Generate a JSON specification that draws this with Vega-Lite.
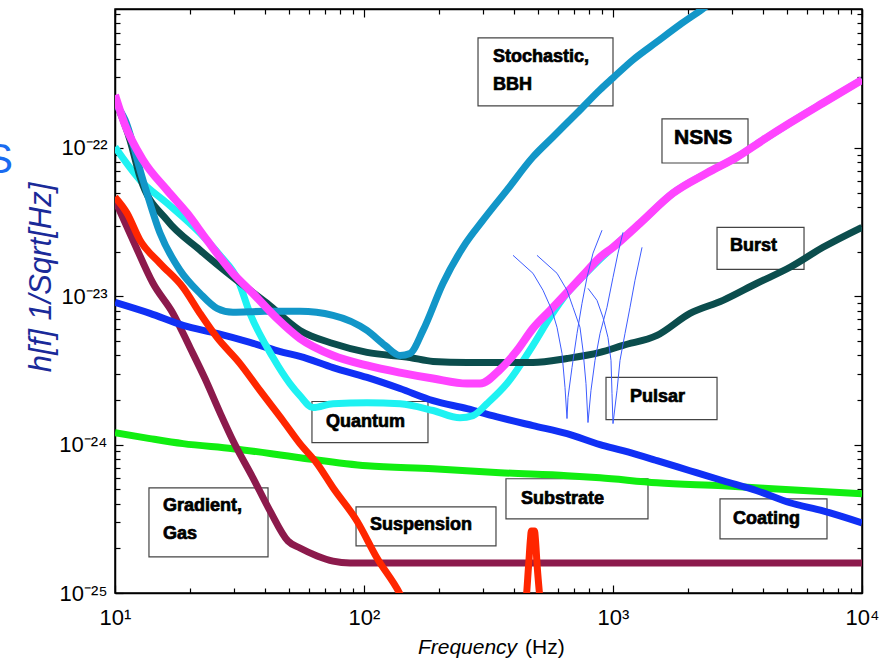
{
  "$schema": "https://vega.github.io/schema/vega-lite/v6.json",
  "width": 747,
  "height": 584,
  "autosize": {"type": "none"},
  "padding": {"left": 115, "top": 9, "right": 28, "bottom": 65},
  "background": "white",
  "config": {
    "view": {"stroke": "black", "strokeWidth": 1.5},
    "font": "Liberation Sans",
    "axis": {
      "tickColor": "black", "tickWidth": 1.2, "domainColor": "black", "domainWidth": 1.5,
      "grid": false, "labelFont": "Liberation Sans", "labelFontSize": 22, "labelColor": "black",
      "labelFlush": false, "labelOverlap": false, "labelBound": false
    }
  },
  "datasets": {
    "boxes": [
      {"name": "Stochastic", "f1": 287, "f2": 1000, "h1": 5.53e-22, "h2": 1.92e-22},
      {"name": "NSNS", "f1": 1573, "f2": 3485, "h1": 1.57e-22, "h2": 7.92e-23},
      {"name": "Burst", "f1": 2617, "f2": 5850, "h1": 2.92e-23, "h2": 1.52e-23},
      {"name": "Pulsar", "f1": 937.4, "f2": 2617, "h1": 2.84e-24, "h2": 1.476e-24},
      {"name": "Coating", "f1": 2690, "f2": 7235, "h1": 4.31e-25, "h2": 2.32e-25},
      {"name": "Substrate", "f1": 371.7, "f2": 1382, "h1": 5.89e-25, "h2": 3.16e-25},
      {"name": "Suspension", "f1": 92.9, "f2": 338.9, "h1": 3.81e-25, "h2": 2.08e-25},
      {"name": "Quantum", "f1": 61.8, "f2": 180.7, "h1": 1.955e-24, "h2": 1.033e-24},
      {"name": "Gradient", "f1": 13.69, "f2": 41.17, "h1": 5.12e-25, "h2": 1.75e-25}
    ],
    "labels": [
      {"label": "Stochastic,", "f": 329.6, "h": 4.12e-22},
      {"label": "BBH", "f": 329.6, "h": 2.67e-22},
      {"label": "NSNS", "f": 1758, "h": 1.17e-22},
      {"label": "Burst", "f": 2951, "h": 2.18e-23},
      {"label": "Pulsar", "f": 1170, "h": 2.11e-24},
      {"label": "Coating", "f": 3034, "h": 3.14e-25},
      {"label": "Substrate", "f": 427, "h": 4.3e-25},
      {"label": "Suspension", "f": 105.7, "h": 2.88e-25},
      {"label": "Quantum", "f": 70.4, "h": 1.43e-24},
      {"label": "Gradient,", "f": 15.59, "h": 3.88e-25},
      {"label": "Gas", "f": 15.59, "h": 2.5e-25}
    ],
    "substrate": [
      {"f": 10, "h": 1.205e-24}, {"f": 13.82, "h": 1.099e-24}, {"f": 18.76, "h": 1.016e-24},
      {"f": 29.78, "h": 9.4e-25}, {"f": 55.3, "h": 8.17e-25}, {"f": 102.8, "h": 7.21e-25},
      {"f": 189.3, "h": 6.89e-25}, {"f": 351.8, "h": 6.47e-25}, {"f": 653.6, "h": 6.18e-25},
      {"f": 887, "h": 5.98e-25}, {"f": 1502, "h": 5.53e-25}, {"f": 2766, "h": 5.28e-25},
      {"f": 5139, "h": 4.97e-25}, {"f": 10000, "h": 4.67e-25}
    ],
    "gradient": [
      {"f": 10, "h": 4.45e-23}, {"f": 11.81, "h": 2.39e-23}, {"f": 14.21, "h": 1.225e-23},
      {"f": 17.1, "h": 7.67e-24}, {"f": 20, "h": 4.52e-24}, {"f": 22.98, "h": 2.79e-24},
      {"f": 26.4, "h": 1.644e-24}, {"f": 29.78, "h": 1.063e-24}, {"f": 35.8, "h": 5.98e-25},
      {"f": 41.93, "h": 3.58e-25}, {"f": 49.5, "h": 2.24e-25}, {"f": 55.3, "h": 2.01e-25},
      {"f": 64.8, "h": 1.778e-25}, {"f": 75.1, "h": 1.64e-25}, {"f": 87.9, "h": 1.594e-25},
      {"f": 10000, "h": 1.594e-25}
    ],
    "coating": [
      {"f": 10, "h": 9.1e-24}, {"f": 13.82, "h": 7.67e-24}, {"f": 18.76, "h": 6.37e-24},
      {"f": 25.68, "h": 5.62e-24}, {"f": 34.85, "h": 4.89e-24}, {"f": 47.3, "h": 4.19e-24},
      {"f": 55.3, "h": 3.94e-24}, {"f": 75.1, "h": 3.31e-24}, {"f": 102.8, "h": 2.84e-24},
      {"f": 139.5, "h": 2.39e-24}, {"f": 189.3, "h": 1.98e-24}, {"f": 259.3, "h": 1.75e-24},
      {"f": 351.8, "h": 1.52e-24}, {"f": 477, "h": 1.343e-24}, {"f": 653.6, "h": 1.186e-24},
      {"f": 887, "h": 1e-24}, {"f": 1097, "h": 9.1e-25}, {"f": 1502, "h": 7.8e-25},
      {"f": 2038, "h": 6.67e-25}, {"f": 2766, "h": 5.71e-25}, {"f": 3787, "h": 4.89e-25},
      {"f": 5139, "h": 4.06e-25}, {"f": 6973, "h": 3.58e-25}, {"f": 10000, "h": 2.97e-25}
    ],
    "suspension": [
      {"f": 10, "h": 4.67e-23}, {"f": 11.17, "h": 3.64e-23}, {"f": 12.6, "h": 2.39e-23},
      {"f": 15.16, "h": 1.67e-23}, {"f": 18.76, "h": 1.15e-23}, {"f": 21.95, "h": 7.67e-24},
      {"f": 25.68, "h": 5.28e-24}, {"f": 31.77, "h": 3.52e-24}, {"f": 38.2, "h": 2.32e-24},
      {"f": 47.3, "h": 1.45e-24}, {"f": 55.3, "h": 1.016e-24}, {"f": 64.8, "h": 7.45e-25},
      {"f": 75.1, "h": 5.12e-25}, {"f": 93.7, "h": 3.06e-25}, {"f": 112.8, "h": 1.72e-25},
      {"f": 139.5, "h": 9.84e-26}, {"f": 146, "h": 8.43e-26}, {"f": 445, "h": 8.8e-26},
      {"f": 458, "h": 1.52e-25}, {"f": 466, "h": 2.3e-25}, {"f": 470, "h": 2.62e-25},
      {"f": 484, "h": 2.62e-25}, {"f": 488, "h": 2.3e-25}, {"f": 496, "h": 1.52e-25},
      {"f": 510, "h": 8.8e-26}
    ],
    "quantum": [
      {"f": 10, "h": 1.016e-22}, {"f": 12.6, "h": 6.08e-23}, {"f": 16.18, "h": 4.25e-23},
      {"f": 21.95, "h": 2.67e-23}, {"f": 26.4, "h": 1.89e-23}, {"f": 31.2, "h": 1.283e-23},
      {"f": 34.85, "h": 7.67e-24}, {"f": 43.1, "h": 3.87e-24}, {"f": 50.4, "h": 2.58e-24},
      {"f": 55.3, "h": 2.14e-24}, {"f": 62.4, "h": 1.778e-24}, {"f": 75.1, "h": 1.89e-24},
      {"f": 102.8, "h": 1.92e-24}, {"f": 139.5, "h": 1.89e-24}, {"f": 189.3, "h": 1.7e-24},
      {"f": 242.9, "h": 1.52e-24}, {"f": 274, "h": 1.57e-24}, {"f": 311.9, "h": 1.89e-24},
      {"f": 375, "h": 2.58e-24}, {"f": 477, "h": 4.67e-24}, {"f": 558.5, "h": 7.21e-24},
      {"f": 653.6, "h": 1.047e-23}, {"f": 757.8, "h": 1.365e-23}, {"f": 887, "h": 1.78e-23},
      {"f": 1000, "h": 2.14e-23}, {"f": 1284, "h": 3.11e-23}, {"f": 1742, "h": 4.96e-23},
      {"f": 2385, "h": 6.78e-23}, {"f": 3148, "h": 8.69e-23}, {"f": 4004, "h": 1.132e-22},
      {"f": 5139, "h": 1.475e-22}, {"f": 6973, "h": 2.01e-22}, {"f": 10000, "h": 2.88e-22}
    ],
    "burst": [
      {"f": 10, "h": 2.11e-22}, {"f": 11.49, "h": 1.13e-22}, {"f": 12.6, "h": 6.37e-23},
      {"f": 16.18, "h": 3.26e-23}, {"f": 21.95, "h": 2.05e-23}, {"f": 29.78, "h": 1.343e-23},
      {"f": 40.8, "h": 8.97e-24}, {"f": 55.3, "h": 5.89e-24}, {"f": 75.1, "h": 4.81e-24},
      {"f": 102.8, "h": 4.19e-24}, {"f": 153, "h": 3.87e-24},
      {"f": 189.3, "h": 3.64e-24}, {"f": 259.3, "h": 3.58e-24}, {"f": 351.8, "h": 3.58e-24},
      {"f": 477, "h": 3.58e-24}, {"f": 653.6, "h": 3.81e-24}, {"f": 887, "h": 4.19e-24},
      {"f": 1097, "h": 4.67e-24}, {"f": 1502, "h": 5.45e-24}, {"f": 2038, "h": 7.67e-24},
      {"f": 2766, "h": 9.39e-24}, {"f": 3787, "h": 1.225e-23}, {"f": 5139, "h": 1.57e-23},
      {"f": 6973, "h": 2.14e-23}, {"f": 10000, "h": 2.92e-23}
    ],
    "bbh": [
      {"f": 10, "h": 2.01e-22}, {"f": 10.97, "h": 1.55e-22}, {"f": 12.95, "h": 6.08e-23},
      {"f": 15.16, "h": 2.67e-23}, {"f": 18.24, "h": 1.5e-23}, {"f": 21.95, "h": 1.047e-23},
      {"f": 25.68, "h": 8.3e-24}, {"f": 29.78, "h": 7.8e-24}, {"f": 40, "h": 7.92e-24},
      {"f": 55.3, "h": 7.92e-24}, {"f": 75.1, "h": 7.45e-24}, {"f": 102.8, "h": 5.89e-24},
      {"f": 121.4, "h": 4.67e-24}, {"f": 139.5, "h": 3.99e-24}, {"f": 153, "h": 4.12e-24},
      {"f": 172.6, "h": 5.89e-24}, {"f": 207.7, "h": 1.225e-23}, {"f": 249.8, "h": 2.14e-23},
      {"f": 300.6, "h": 3.26e-23}, {"f": 375, "h": 5.2e-23}, {"f": 477, "h": 8.69e-23},
      {"f": 574, "h": 1.186e-22}, {"f": 717, "h": 1.72e-22}, {"f": 887, "h": 2.47e-22},
      {"f": 1000, "h": 2.97e-22}, {"f": 1203, "h": 3.93e-22}, {"f": 1502, "h": 5.2e-22},
      {"f": 1858, "h": 6.78e-22}, {"f": 2298, "h": 8.69e-22}, {"f": 2570, "h": 1e-21}
    ],
    "nsns": [
      {"f": 10, "h": 2.28e-22}, {"f": 10.97, "h": 1.43e-22}, {"f": 12.95, "h": 8.3e-23},
      {"f": 16.18, "h": 5.2e-23}, {"f": 19.46, "h": 3.64e-23}, {"f": 23.42, "h": 2.39e-23},
      {"f": 29.78, "h": 1.43e-23}, {"f": 35.8, "h": 1.047e-23}, {"f": 44.7, "h": 7.1e-24},
      {"f": 55.3, "h": 5.2e-24}, {"f": 75.1, "h": 3.99e-24}, {"f": 102.8, "h": 3.42e-24},
      {"f": 139.5, "h": 3.06e-24}, {"f": 189.3, "h": 2.79e-24}, {"f": 259.3, "h": 2.58e-24},
      {"f": 292.4, "h": 2.58e-24}, {"f": 351.8, "h": 3.21e-24}, {"f": 411.8, "h": 4.31e-24},
      {"f": 477, "h": 6.08e-24}, {"f": 558.5, "h": 8.03e-24}, {"f": 757.8, "h": 1.387e-23},
      {"f": 887, "h": 1.837e-23}, {"f": 1000, "h": 2.14e-23}, {"f": 1284, "h": 3.11e-23},
      {"f": 1742, "h": 4.96e-23}, {"f": 2385, "h": 6.78e-23}, {"f": 3148, "h": 8.69e-23},
      {"f": 4004, "h": 1.132e-22}, {"f": 5139, "h": 1.475e-22}, {"f": 6973, "h": 2.01e-22},
      {"f": 10000, "h": 2.88e-22}
    ],
    "pulsar": [
      {"p": "A", "f": 396.7, "h": 1.89e-23}, {"p": "A", "f": 477, "h": 1.43e-23},
      {"p": "A", "f": 523.5, "h": 1.099e-23}, {"p": "A", "f": 568.9, "h": 8.03e-24},
      {"p": "A", "f": 595.9, "h": 6.18e-24}, {"p": "A", "f": 624, "h": 4.12e-24},
      {"p": "A", "f": 641.6, "h": 2.43e-24}, {"p": "A", "f": 653.6, "h": 1.5e-24},
      {"p": "A", "f": 659.6, "h": 2.08e-24}, {"p": "A", "f": 684.4, "h": 3.31e-24},
      {"p": "A", "f": 716.9, "h": 5.62e-24}, {"p": "A", "f": 750.8, "h": 8.97e-24},
      {"p": "A", "f": 786.3, "h": 1.343e-23}, {"p": "A", "f": 831.2, "h": 1.955e-23},
      {"p": "A", "f": 903.3, "h": 2.79e-23},
      {"p": "B", "f": 495.1, "h": 1.89e-23}, {"p": "B", "f": 595.9, "h": 1.43e-23},
      {"p": "B", "f": 653.6, "h": 1.099e-23}, {"p": "B", "f": 690.9, "h": 8.43e-24},
      {"p": "B", "f": 737, "h": 6.18e-24}, {"p": "B", "f": 757.8, "h": 4.31e-24},
      {"p": "B", "f": 779, "h": 2.58e-24}, {"p": "B", "f": 793.5, "h": 1.41e-24},
      {"p": "B", "f": 815.7, "h": 2.32e-24}, {"p": "B", "f": 846.7, "h": 3.7e-24},
      {"p": "B", "f": 887, "h": 5.62e-24}, {"p": "B", "f": 946, "h": 8.43e-24},
      {"p": "B", "f": 1000, "h": 1.343e-23}, {"p": "B", "f": 1047.4, "h": 1.955e-23},
      {"p": "B", "f": 1097, "h": 2.7e-23},
      {"p": "C", "f": 793.5, "h": 1.132e-23}, {"p": "C", "f": 862.5, "h": 9.39e-24},
      {"p": "C", "f": 911.7, "h": 7.21e-24}, {"p": "C", "f": 954.7, "h": 5.28e-24},
      {"p": "C", "f": 981.7, "h": 3.7e-24}, {"p": "C", "f": 990.9, "h": 2.21e-24},
      {"p": "C", "f": 1000, "h": 1.387e-24}, {"p": "C", "f": 1037.8, "h": 2.32e-24},
      {"p": "C", "f": 1066.9, "h": 3.7e-24}, {"p": "C", "f": 1117.4, "h": 5.62e-24},
      {"p": "C", "f": 1170.4, "h": 8.43e-24}, {"p": "C", "f": 1225.6, "h": 1.283e-23},
      {"p": "C", "f": 1308, "h": 2.14e-23}
    ]
  },
  "layer": [
    {
      "data": {"name": "boxes"},
      "mark": {"type": "rect", "filled": false, "stroke": "#444444", "strokeWidth": 1.2},
      "encoding": {
        "x": {
          "field": "f1", "type": "quantitative",
          "scale": {"type": "log", "domain": [10, 10000], "nice": false},
          "axis": {
            "orient": "bottom",
            "values": [10, 20, 30, 40, 50, 60, 70, 80, 90, 100, 200, 300, 400, 500, 600, 700, 800, 900, 1000, 2000, 3000, 4000, 5000, 6000, 7000, 8000, 9000, 10000],
            "tickSize": {"condition": {"test": "abs(log(datum.value)/LN10 - round(log(datum.value)/LN10)) < 0.001", "value": -8}, "value": -5},
            "labelPadding": 22,
            "labelFontSize": 22,
            "labelExpr": "abs(log(datum.value)/LN10 - round(log(datum.value)/LN10)) < 0.001 ? (round(log(datum.value)/LN10) == 1 ? '10¹' : round(log(datum.value)/LN10) == 2 ? '10²' : round(log(datum.value)/LN10) == 3 ? '10³' : '10⁴') : ''",
            "title": "Frequency",
            "titleFont": "Liberation Sans", "titleFontStyle": "italic", "titleFontWeight": "normal",
            "titleFontSize": 21, "titleColor": "black",
            "titleX": 352, "titleY": 60, "titleAlign": "center", "titleBaseline": "alphabetic"
          }
        },
        "x2": {"field": "f2"},
        "y": {
          "field": "h1", "type": "quantitative",
          "scale": {"type": "log", "domain": [1e-25, 8.65e-22], "nice": false},
          "axis": {
            "orient": "left",
            "values": [1e-25, 2e-25, 3e-25, 4e-25, 5e-25, 6e-25, 7e-25, 8e-25, 9e-25, 1e-24, 2e-24, 3e-24, 4e-24, 5e-24, 6e-24, 7e-24, 8e-24, 9e-24, 1e-23, 2e-23, 3e-23, 4e-23, 5e-23, 6e-23, 7e-23, 8e-23, 9e-23, 1e-22, 2e-22, 3e-22, 4e-22, 5e-22, 6e-22, 7e-22, 8e-22],
            "tickSize": {"condition": {"test": "abs(log(datum.value)/LN10 - round(log(datum.value)/LN10)) < 0.001", "value": -8}, "value": -5},
            "labelPadding": 16,
            "labelFontSize": 22,
            "labelExpr": "abs(log(datum.value)/LN10 - round(log(datum.value)/LN10)) < 0.001 ? (round(log(datum.value)/LN10) == -22 ? '10⁻²²' : round(log(datum.value)/LN10) == -23 ? '10⁻²³' : round(log(datum.value)/LN10) == -24 ? '10⁻²⁴' : '10⁻²⁵') : ''",
            "title": "h[f] 1/Sqrt[Hz]",
            "titleFont": "Liberation Sans", "titleFontStyle": "italic", "titleFontWeight": "normal",
            "titleFontSize": 31, "titleColor": "#1a2a99",
            "titleX": -74, "titleY": 268, "titleAngle": 270, "titleAlign": "center", "titleBaseline": "middle"
          }
        },
        "y2": {"field": "h2"}
      }
    },
    {
      "data": {"name": "substrate"},
      "mark": {"type": "line", "color": "#11ee11", "strokeWidth": 7, "clip": true, "interpolate": "monotone"},
      "encoding": {
        "x": {"field": "f", "type": "quantitative", "scale": {"type": "log", "domain": [10, 10000], "nice": false}, "axis": null},
        "y": {"field": "h", "type": "quantitative", "scale": {"type": "log", "domain": [1e-25, 8.65e-22], "nice": false}, "axis": null}
      }
    },
    {
      "data": {"name": "gradient"},
      "mark": {"type": "line", "color": "#8c1a4c", "strokeWidth": 7, "clip": true, "interpolate": "monotone"},
      "encoding": {
        "x": {"field": "f", "type": "quantitative", "scale": {"type": "log", "domain": [10, 10000], "nice": false}, "axis": null},
        "y": {"field": "h", "type": "quantitative", "scale": {"type": "log", "domain": [1e-25, 8.65e-22], "nice": false}, "axis": null}
      }
    },
    {
      "data": {"name": "coating"},
      "mark": {"type": "line", "color": "#1030f5", "strokeWidth": 7, "clip": true, "interpolate": "monotone"},
      "encoding": {
        "x": {"field": "f", "type": "quantitative", "scale": {"type": "log", "domain": [10, 10000], "nice": false}, "axis": null},
        "y": {"field": "h", "type": "quantitative", "scale": {"type": "log", "domain": [1e-25, 8.65e-22], "nice": false}, "axis": null}
      }
    },
    {
      "data": {"name": "suspension"},
      "mark": {"type": "line", "color": "#ff2600", "strokeWidth": 7, "clip": true, "interpolate": "monotone"},
      "encoding": {
        "x": {"field": "f", "type": "quantitative", "scale": {"type": "log", "domain": [10, 10000], "nice": false}, "axis": null},
        "y": {"field": "h", "type": "quantitative", "scale": {"type": "log", "domain": [1e-25, 8.65e-22], "nice": false}, "axis": null}
      }
    },
    {
      "data": {"name": "quantum"},
      "mark": {"type": "line", "color": "#1ef2f2", "strokeWidth": 7, "clip": true, "interpolate": "monotone"},
      "encoding": {
        "x": {"field": "f", "type": "quantitative", "scale": {"type": "log", "domain": [10, 10000], "nice": false}, "axis": null},
        "y": {"field": "h", "type": "quantitative", "scale": {"type": "log", "domain": [1e-25, 8.65e-22], "nice": false}, "axis": null}
      }
    },
    {
      "data": {"name": "burst"},
      "mark": {"type": "line", "color": "#0b4d4d", "strokeWidth": 7, "clip": true, "interpolate": "monotone"},
      "encoding": {
        "x": {"field": "f", "type": "quantitative", "scale": {"type": "log", "domain": [10, 10000], "nice": false}, "axis": null},
        "y": {"field": "h", "type": "quantitative", "scale": {"type": "log", "domain": [1e-25, 8.65e-22], "nice": false}, "axis": null}
      }
    },
    {
      "data": {"name": "bbh"},
      "mark": {"type": "line", "color": "#1296c8", "strokeWidth": 7, "clip": true, "interpolate": "monotone"},
      "encoding": {
        "x": {"field": "f", "type": "quantitative", "scale": {"type": "log", "domain": [10, 10000], "nice": false}, "axis": null},
        "y": {"field": "h", "type": "quantitative", "scale": {"type": "log", "domain": [1e-25, 8.65e-22], "nice": false}, "axis": null}
      }
    },
    {
      "data": {"name": "nsns"},
      "mark": {"type": "line", "color": "#ff44ff", "strokeWidth": 8, "clip": true, "interpolate": "monotone"},
      "encoding": {
        "x": {"field": "f", "type": "quantitative", "scale": {"type": "log", "domain": [10, 10000], "nice": false}, "axis": null},
        "y": {"field": "h", "type": "quantitative", "scale": {"type": "log", "domain": [1e-25, 8.65e-22], "nice": false}, "axis": null}
      }
    },
    {
      "data": {"name": "pulsar"},
      "mark": {"type": "line", "color": "#3d5cff", "strokeWidth": 1, "clip": true},
      "encoding": {
        "x": {"field": "f", "type": "quantitative", "scale": {"type": "log", "domain": [10, 10000], "nice": false}, "axis": null},
        "y": {"field": "h", "type": "quantitative", "scale": {"type": "log", "domain": [1e-25, 8.65e-22], "nice": false}, "axis": null},
        "detail": {"field": "p", "type": "nominal"}
      }
    },
    {
      "data": {"name": "labels"},
      "mark": {"type": "text", "align": "left", "baseline": "middle", "font": "Liberation Sans", "fontWeight": "bold", "color": "black", "stroke": "black", "strokeWidth": 0.7},
      "encoding": {
        "x": {
          "field": "f", "type": "quantitative",
          "scale": {"type": "log", "domain": [10, 10000], "nice": false},
          "axis": {
            "orient": "top", "labels": false, "title": null,
            "values": [10, 20, 30, 40, 50, 60, 70, 80, 90, 100, 200, 300, 400, 500, 600, 700, 800, 900, 1000, 2000, 3000, 4000, 5000, 6000, 7000, 8000, 9000, 10000],
            "tickSize": {"condition": {"test": "abs(log(datum.value)/LN10 - round(log(datum.value)/LN10)) < 0.001", "value": -8}, "value": -5}
          }
        },
        "y": {
          "field": "h", "type": "quantitative",
          "scale": {"type": "log", "domain": [1e-25, 8.65e-22], "nice": false},
          "axis": {
            "orient": "right", "labels": false, "title": null,
            "values": [1e-25, 2e-25, 3e-25, 4e-25, 5e-25, 6e-25, 7e-25, 8e-25, 9e-25, 1e-24, 2e-24, 3e-24, 4e-24, 5e-24, 6e-24, 7e-24, 8e-24, 9e-24, 1e-23, 2e-23, 3e-23, 4e-23, 5e-23, 6e-23, 7e-23, 8e-23, 9e-23, 1e-22, 2e-22, 3e-22, 4e-22, 5e-22, 6e-22, 7e-22, 8e-22],
            "tickSize": {"condition": {"test": "abs(log(datum.value)/LN10 - round(log(datum.value)/LN10)) < 0.001", "value": -8}, "value": -5}
          }
        },
        "text": {"field": "label", "type": "nominal"},
        "size": {"condition": {"test": "datum.label == 'NSNS'", "value": 21}, "value": 18}
      }
    },
    {
      "data": {"values": [{"label": "(Hz)", "f": 443.2, "h": 3.87e-26}]},
      "mark": {"type": "text", "align": "left", "baseline": "alphabetic", "font": "Liberation Sans", "fontSize": 21, "color": "black"},
      "encoding": {
        "x": {"field": "f", "type": "quantitative", "scale": {"type": "log", "domain": [10, 10000], "nice": false}, "axis": null},
        "y": {"field": "h", "type": "quantitative", "scale": {"type": "log", "domain": [1e-25, 8.65e-22], "nice": false}, "axis": null},
        "text": {"field": "label", "type": "nominal"}
      }
    },
    {
      "data": {"values": [{"label": "S", "f": 3.894, "h": 6.78e-23}]},
      "mark": {"type": "text", "align": "right", "baseline": "alphabetic", "font": "Liberation Sans", "fontSize": 42, "color": "#1a6bf0"},
      "encoding": {
        "x": {"field": "f", "type": "quantitative", "scale": {"type": "log", "domain": [10, 10000], "nice": false}, "axis": null},
        "y": {"field": "h", "type": "quantitative", "scale": {"type": "log", "domain": [1e-25, 8.65e-22], "nice": false}, "axis": null},
        "text": {"field": "label", "type": "nominal"}
      }
    }
  ],
  "resolve": {"axis": {"x": "independent", "y": "independent"}}
}
